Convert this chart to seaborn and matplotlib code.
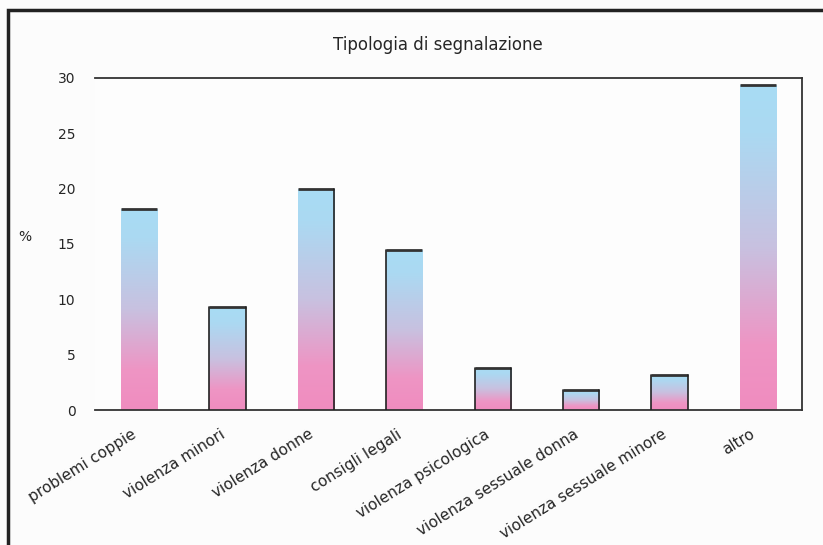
import numpy as np
import pandas as pd
import matplotlib
matplotlib.use('Agg')
import matplotlib.pyplot as plt
import matplotlib.transforms as mtransforms
import seaborn as sns
from matplotlib.colors import LinearSegmentedColormap
from matplotlib.patches import Rectangle

# dati
categorie = ['problemi coppie', 'violenza minori', 'violenza donne', 'consigli legali',
             'violenza psicologica', 'violenza sessuale donna', 'violenza sessuale minore', 'altro']
percentuali = [18.2, 9.3, 20.0, 14.5, 3.8, 1.8, 3.2, 29.4]
yticks = [0, 5, 10, 15, 20, 25, 30]
# lati del bordo visibili per ogni barra (come nell'originale)
lati_bordo = ['t', 'ltr', 'tr', 'tl', 'ltr', 'ltr', 'ltr', 't']

df = pd.DataFrame({'categoria': categorie, 'perc': percentuali})

sns.set_style('white')
plt.rcParams['font.family'] = ['DejaVu Sans']

fig = plt.figure(figsize=(8.23, 5.45), dpi=100)
fig.patch.set_facecolor('#fcfcfc')
ax = fig.add_axes([0.1154, 0.2477, 0.8591, 0.6092])

sns.barplot(data=df, x='categoria', y='perc', width=0.41, color='#a8dcf2',
            linewidth=0, ax=ax)

# gradiente rosa (basso) -> azzurro (alto) dentro ogni barra
cmap = LinearSegmentedColormap.from_list(
    'grad', [(0, '#f08cbf'), (0.2, '#ee95c4'), (0.5, '#c8c1e0'), (0.85, '#abd9f2'), (1, '#a8dcf4')])
grad = np.linspace(0, 1, 256).reshape(-1, 1)
for p, lati in zip(ax.patches, lati_bordo):
    x0, y0 = p.get_x(), p.get_y()
    w, h = p.get_width(), p.get_height()
    im = ax.imshow(grad, cmap=cmap, aspect='auto', origin='lower',
                   extent=[x0, x0 + w, y0, y0 + h], zorder=p.get_zorder() - 0.1)
    im.set_clip_path(p)
    p.set_facecolor('none')
    if 't' in lati:
        ax.plot([x0, x0 + w], [y0 + h, y0 + h], color='#333333', lw=2, zorder=3,
                solid_capstyle='butt')
    if 'l' in lati:
        ax.plot([x0, x0], [y0, y0 + h], color='#222222', lw=1.2, zorder=3)
    if 'r' in lati:
        ax.plot([x0 + w, x0 + w], [y0, y0 + h], color='#222222', lw=1.2, zorder=3)

ax.set_xlim(-0.5, len(categorie) - 0.5)
ax.set_ylim(0, 30)
ax.set_yticks(yticks)
ax.set_yticklabels([str(v) for v in yticks], fontsize=10)
ax.set_xticks(range(len(categorie)))
ax.set_xticklabels(categorie, rotation=32, ha='right', rotation_mode='anchor', fontsize=11)
ax.tick_params(axis='y', length=0, pad=14)
ax.tick_params(axis='x', length=0, pad=12)
offset = mtransforms.ScaledTranslation(-8 / 100, 0, fig.dpi_scale_trans)
for lbl in ax.get_xticklabels():
    lbl.set_transform(lbl.get_transform() + offset)
ax.set_xlabel('')
ax.set_ylabel('%', fontsize=10, rotation=0, labelpad=24)
ax.set_title('Tipologia di segnalazione', fontsize=12, pad=20, x=0.485)

ax.spines['left'].set_visible(False)
for s in ['top', 'right', 'bottom']:
    ax.spines[s].set_color('#333333')
    ax.spines[s].set_linewidth(1.3)
ax.set_facecolor('#fdfdfd')

# cornice esterna
fig.patches.append(Rectangle((8 / 823, -0.1), 1.2, 1 - 10 / 545 + 0.1, transform=fig.transFigure,
                             fill=False, edgecolor='#222222', linewidth=2.5))

plt.savefig('out.png', dpi=100)
